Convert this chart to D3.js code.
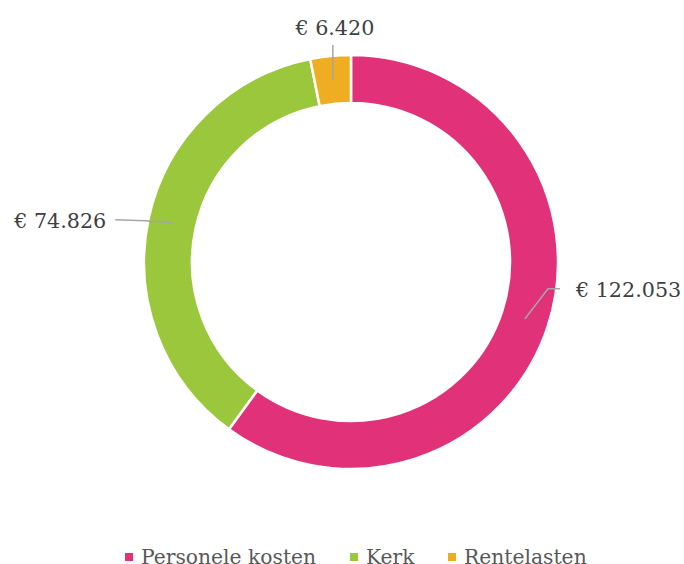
<!DOCTYPE html>
<html>
<head>
<meta charset="utf-8">
<script src="https://cdn.jsdelivr.net/npm/d3@7"></script>
<style>
  body { margin: 0; background: #fff; }
  text { font-family: "DejaVu Serif", Georgia, serif; }
</style>
</head>
<body>
<div id="donut"></div>
<script>
// data
var categories = ["Personele kosten", "Kerk", "Rentelasten"];
var values = [122053, 74826, 6420];
var labels = ["€ 122.053", "€ 74.826", "€ 6.420"];
var colors = ["#E13178", "#9AC73B", "#EFAE22"];

var width = 684, height = 564;
var cx = 351, cy = 262;
var outerR = 207, innerR = 159;

var svg = d3.select("#donut")
  .append("svg")
  .attr("width", width)
  .attr("height", height);

var g = svg.append("g")
  .attr("transform", "translate(" + cx + "," + cy + ")");

var pie = d3.pie()
  .sort(null)
  .value(function(d) { return d; });

var arc = d3.arc()
  .innerRadius(innerR)
  .outerRadius(outerR);

var arcs = pie(values);

g.selectAll("path.slice")
  .data(arcs)
  .enter()
  .append("path")
  .attr("class", "slice")
  .attr("d", arc)
  .attr("fill", function(d, i) { return colors[i]; })
  .attr("stroke", "#fff")
  .attr("stroke-width", 2.5);

// leader lines + labels, placed relative to the slice centroid
function labelLayout(d, i) {
  var c = arc.centroid(d);
  if (i === 0) {
    return { pts: [c, [c[0] + 23, c[1] - 30], [c[0] + 35, c[1] - 30]],
             tx: c[0] + 51, ty: c[1] - 22, anchor: "start" };
  } else if (i === 1) {
    return { pts: [c, [c[0] - 28, c[1] - 2], [c[0] - 57, c[1] - 3]],
             tx: c[0] - 66, ty: c[1] + 5, anchor: "end" };
  } else {
    return { pts: [c, [c[0], c[1] - 35]],
             tx: c[0] + 2, ty: c[1] - 45, anchor: "middle" };
  }
}

var lbl = g.selectAll("g.lbl")
  .data(arcs)
  .enter()
  .append("g")
  .attr("class", "lbl");

lbl.append("polyline")
  .attr("points", function(d, i) { return labelLayout(d, i).pts.map(function(p) { return p.join(","); }).join(" "); })
  .attr("fill", "none")
  .attr("stroke", "#A6A6A6")
  .attr("stroke-width", 1.5);

lbl.append("text")
  .attr("x", function(d, i) { return labelLayout(d, i).tx; })
  .attr("y", function(d, i) { return labelLayout(d, i).ty; })
  .attr("text-anchor", function(d, i) { return labelLayout(d, i).anchor; })
  .attr("font-size", 20.7)
  .attr("fill", "#404040")
  .text(function(d, i) { return labels[i]; });

// legend
var legendPos = [125, 350, 448];

var leg = svg.append("g")
  .selectAll("g")
  .data(categories)
  .enter()
  .append("g")
  .attr("transform", function(d, i) { return "translate(" + legendPos[i] + ",557)"; });

leg.append("rect")
  .attr("x", 0)
  .attr("y", -4)
  .attr("width", 8)
  .attr("height", 8)
  .attr("fill", function(d, i) { return colors[i]; });

leg.append("text")
  .attr("x", 16)
  .attr("y", 7)
  .attr("font-size", 20.3)
  .attr("fill", "#595959")
  .text(function(d) { return d; });
</script>
</body>
</html>
